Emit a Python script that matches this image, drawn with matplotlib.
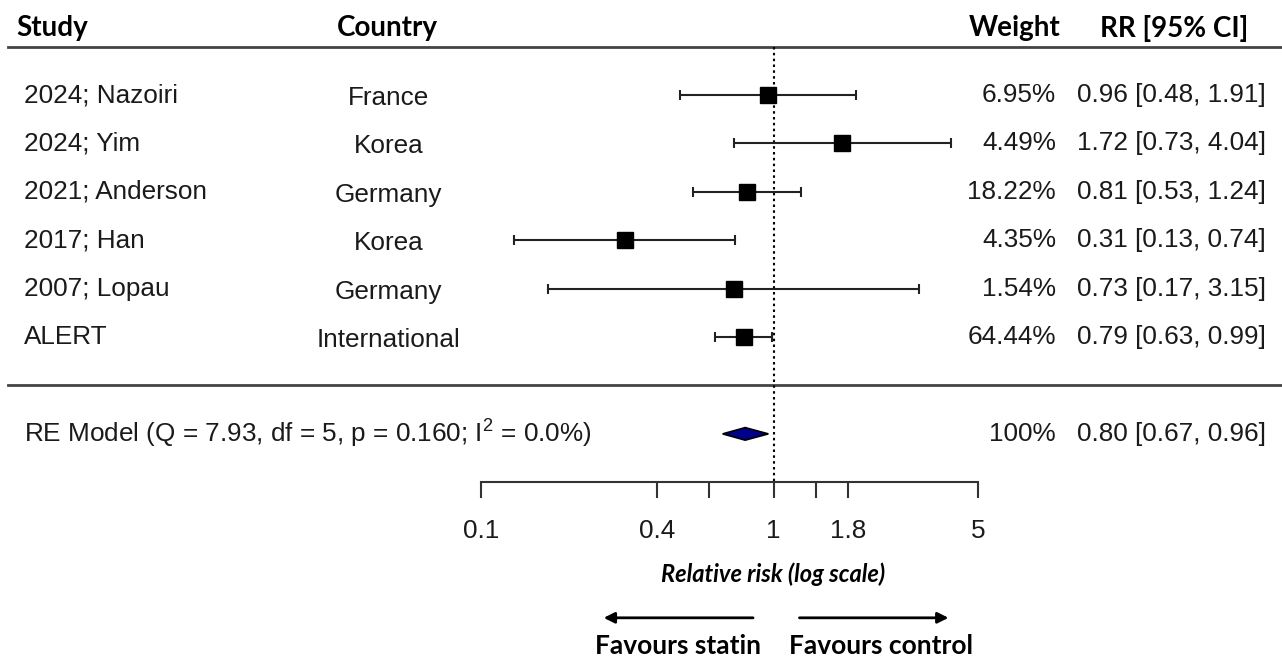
import numpy as np
import matplotlib
matplotlib.use("Agg")
import matplotlib.pyplot as plt

# Study data
studies = ["2024; Nazoiri", "2024; Yim", "2021; Anderson", "2017; Han", "2007; Lopau", "ALERT"]
countries = ["France", "Korea", "Germany", "Korea", "Germany", "International"]
weights = [6.95, 4.49, 18.22, 4.35, 1.54, 64.44]
rr = [0.96, 1.72, 0.81, 0.31, 0.73, 0.79]
ci_low = [0.48, 0.73, 0.53, 0.13, 0.17, 0.63]
ci_high = [1.91, 4.04, 1.24, 0.74, 3.15, 0.99]

# Pooled random-effects estimate
re_label = r"RE Model (Q = 7.93, df = 5, p = 0.160; I$^2$ = 0.0%)"
re_weight = 100
re_rr, re_low, re_high = 0.80, 0.67, 0.96

tick_vals = [0.1, 0.4, 0.6, 1, 1.4, 1.8, 5]
tick_labels = {0.1: "0.1", 0.4: "0.4", 1: "1", 1.8: "1.8", 5: "5"}

plt.rcParams["font.family"] = ["Liberation Sans", "DejaVu Sans"]
plt.rcParams["mathtext.fontset"] = "custom"
plt.rcParams["mathtext.rm"] = "Liberation Sans"
plt.rcParams["mathtext.it"] = "Liberation Sans:italic"

body = dict(fontsize=18.8, color="#1a1a1a")
head = dict(fontsize=20, fontweight="bold", family="Lato", color="black")

fig = plt.figure(figsize=(12.82, 6.58), dpi=100)
ax = fig.add_axes([0, 0, 1, 1])
ax.set_xscale("log")
ax.set_xlim(10 ** -2.644, 10 ** 1.738)
ax.set_ylim(11.63, -1.963)
ax.axis("off")

ty = ax.get_yaxis_transform()  # x in axes fraction, y in row units
rows = np.arange(len(studies))
re_row = len(studies) + 1
axis_row = re_row + 1

# headers
ax.text(0.0125, -1.38, "Study", ha="left", va="center", transform=ty, **head)
ax.text(0.302, -1.38, "Country", ha="center", va="center", transform=ty, **head)
ax.text(0.827, -1.38, "Weight", ha="right", va="center", transform=ty, **head)
ax.text(0.916, -1.38, "RR [95% CI]", ha="center", va="center", transform=ty, **head)

ax.axhline(-1, xmin=0.006, xmax=1, color="#444444", lw=2)
ax.axhline(len(studies), xmin=0.006, xmax=1, color="#444444", lw=2)

# reference line at RR = 1
ax.plot([1, 1], [-1, axis_row], color="black", lw=1.5, ls=(0, (1.2, 1.6)))

# study rows
for i in rows:
    ax.text(0.0187, i, studies[i], ha="left", va="center", transform=ty, **body)
    ax.text(0.303, i + 0.06, countries[i], ha="center", va="center", transform=ty, **body)
    ax.text(0.8237, i, f"{weights[i]:.2f}%", ha="right", va="center", transform=ty, **body)
    ax.text(0.9875, i, f"{rr[i]:.2f} [{ci_low[i]:.2f}, {ci_high[i]:.2f}]",
            ha="right", va="center", transform=ty, **body)

rr_a = np.array(rr)
ax.errorbar(rr_a, rows, xerr=[rr_a - np.array(ci_low), np.array(ci_high) - rr_a],
            fmt="none", ecolor="#222222", elinewidth=1.5, capsize=3.5, capthick=1.5)
ax.plot(rr_a, rows, "s", ms=11.5, color="black")

# pooled estimate
ax.text(0.0187, re_row, re_label, ha="left", va="center", transform=ty, **body)
ax.text(0.8237, re_row, f"{re_weight}%", ha="right", va="center", transform=ty, **body)
ax.text(0.9875, re_row, f"{re_rr:.2f} [{re_low:.2f}, {re_high:.2f}]",
        ha="right", va="center", transform=ty, **body)
h = 0.13
ax.fill([re_low, re_rr, re_high, re_rr], [re_row, re_row - h, re_row, re_row + h],
        facecolor="#00008B", edgecolor="black", lw=1.2)

# x axis drawn by hand, forest-plot style
ax.plot([tick_vals[0], tick_vals[-1]], [axis_row, axis_row], color="#333333", lw=1.5)
ax.vlines(tick_vals, axis_row, axis_row + 0.33, color="#333333", lw=1.5)
for v, lab in tick_labels.items():
    ax.text(v, axis_row + 1.0, lab, ha="center", va="center", **body)

ax.text(1, axis_row + 1.9, "Relative risk (log scale)", ha="center", va="center",
        fontsize=17, family="Lato", style="italic", fontweight="bold")

arrow = dict(arrowstyle="-|>", color="black", lw=2, mutation_scale=16)
ax.annotate("", xy=(0.257, axis_row + 2.8), xytext=(0.87, axis_row + 2.8), arrowprops=arrow)
ax.annotate("", xy=(4.05, axis_row + 2.8), xytext=(1.20, axis_row + 2.8), arrowprops=arrow)
ax.text(0.47, axis_row + 3.38, "Favours statin", ha="center", va="center",
        fontsize=19, fontweight="bold", family="Lato")
ax.text(2.33, axis_row + 3.38, "Favours control", ha="center", va="center",
        fontsize=19, fontweight="bold", family="Lato")

fig.savefig("out.png", dpi=100)
